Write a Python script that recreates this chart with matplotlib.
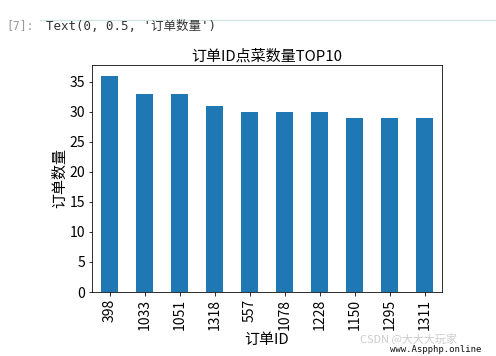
import matplotlib
matplotlib.use("Agg")
import matplotlib.pyplot as plt

plt.rcParams['font.family'] = ['Noto Sans CJK SC', 'DejaVu Sans']
plt.rcParams['axes.unicode_minus'] = False

order_ids = ['398', '1033', '1051', '1318', '557', '1078', '1228', '1150', '1295', '1311']
dish_counts = [36, 33, 33, 31, 30, 30, 30, 29, 29, 29]

W, H = 496, 356
DPI = 72
fig = plt.figure(figsize=(W / DPI, H / DPI), dpi=DPI)
fig.patch.set_facecolor('white')

# notebook chrome
fig.add_artist(plt.Line2D([40 / W, 1.0], [1 - 20 / H, 1 - 20 / H], color='#cfe3e3', lw=1.2))
fig.text(6 / W, 1 - 26 / H, '[7]:', color='#999999', fontsize=11.5, va='center',
         family=['DejaVu Sans Mono'])
fig.text(46 / W, 1 - 26 / H, "Text(0, 0.5, '订单数量')", color='#333333', fontsize=12.5, va='center',
         family=['DejaVu Sans Mono', 'Noto Sans CJK SC'])

ax = fig.add_axes([92 / W, 1 - 292 / H, (442 - 92) / W, (292 - 65) / H])
x = range(len(order_ids))
ax.bar(x, dish_counts, width=0.5, color='#1f77b4')
ax.set_xlim(-0.5, len(order_ids) - 0.5)
ax.set_ylim(0, max(dish_counts) * 1.05)
ax.set_xticks(list(x))
ax.set_xticklabels(order_ids, rotation=90, fontsize=14)
ax.set_yticks(range(0, 36, 5))
ax.tick_params(axis='y', labelsize=14)
ax.set_title('订单ID点菜数量TOP10', fontsize=15, pad=4)
ax.set_xlabel('订单ID', fontsize=15, labelpad=3)
ax.set_ylabel('订单数量', fontsize=15, labelpad=2)

# watermark
fig.text(360 / W, 1 - 339 / H, 'CSDN @大大大玩家', color='#cccccc', fontsize=11, va='center')
fig.text(390 / W, 1 - 349 / H, 'www.Aspphp.online', color='#111111', fontsize=9, va='center',
         family=['DejaVu Sans Mono'],
         bbox=dict(facecolor='white', edgecolor='none', pad=0.5))

fig.savefig('out.png', dpi=DPI)
